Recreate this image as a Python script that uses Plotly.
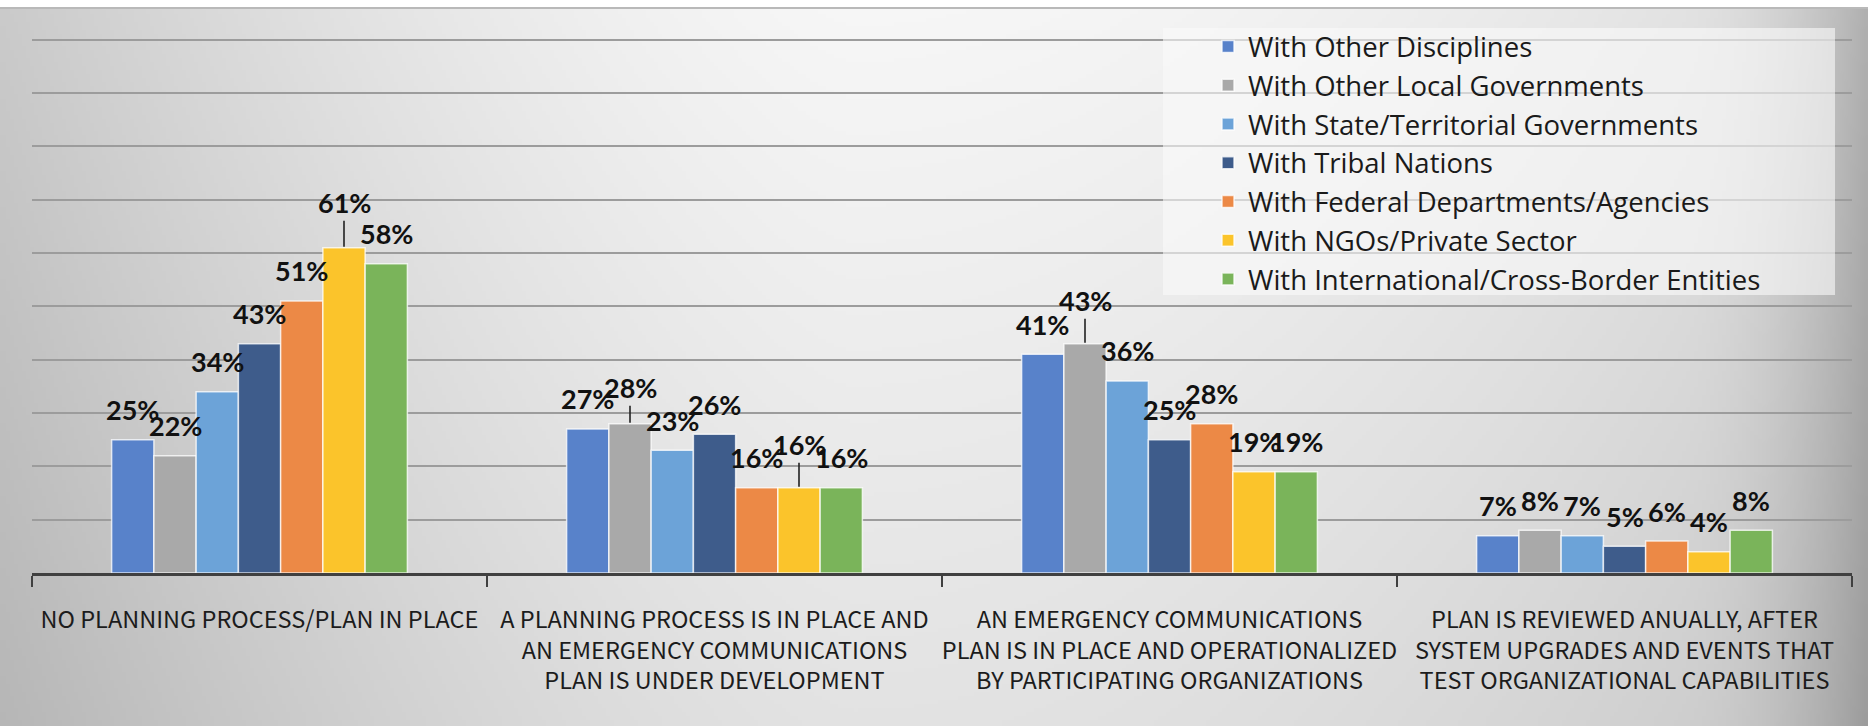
import base64
import struct
import zlib

import plotly.graph_objects as go

# ---- data -----------------------------------------------------------------
categories = [
    "NO PLANNING PROCESS/PLAN IN PLACE",
    "A PLANNING PROCESS IS IN PLACE AND<br>AN EMERGENCY COMMUNICATIONS<br>PLAN IS UNDER DEVELOPMENT",
    "AN EMERGENCY COMMUNICATIONS<br>PLAN IS IN PLACE AND OPERATIONALIZED<br>BY PARTICIPATING ORGANIZATIONS",
    "PLAN IS REVIEWED ANUALLY, AFTER<br>SYSTEM UPGRADES AND EVENTS THAT<br>TEST ORGANIZATIONAL CAPABILITIES",
]

series_names = [
    "With Other Disciplines",
    "With Other Local Governments",
    "With State/Territorial Governments",
    "With Tribal Nations",
    "With Federal Departments/Agencies",
    "With NGOs/Private Sector",
    "With International/Cross-Border Entities",
]

other_disciplines = [25, 27, 41, 7]
other_local_governments = [22, 28, 43, 8]
state_territorial_governments = [34, 23, 36, 7]
tribal_nations = [43, 26, 25, 5]
federal_agencies = [51, 16, 28, 6]
ngos_private_sector = [61, 16, 19, 4]
international_entities = [58, 16, 19, 8]

series_values = [
    other_disciplines,
    other_local_governments,
    state_territorial_governments,
    tribal_nations,
    federal_agencies,
    ngos_private_sector,
    international_entities,
]

colors = ["#5882CA", "#A9A9A9", "#6CA3D8", "#3E5C8B", "#EC8946", "#FBC42B", "#7AB45A"]

# labels lifted higher and tied to their bar with a short leader line
# key: (series index, category index) -> pixel lift of the label centre
leader_labels = {(5, 0): 45, (1, 1): 36, (5, 1): 43, (1, 2): 43}

# ---- figure geometry ------------------------------------------------------
W, H = 1868, 726
M_L, M_R, M_T, M_B = 32, 16, 38, 153
PW, PH = W - M_L - M_R, H - M_T - M_B
BARGAP = 0.35
TOP_STRIP = 8


def png_data_uri(w, h, pixel):
    raw = bytearray()
    for j in range(h):
        raw.append(0)
        for i in range(w):
            raw.extend(pixel(i, j))

    def chunk(tag, data):
        body = tag + data
        return struct.pack(">I", len(data)) + body + struct.pack(">I", zlib.crc32(body) & 0xFFFFFFFF)

    png = (
        b"\x89PNG\r\n\x1a\n"
        + chunk(b"IHDR", struct.pack(">IIBBBBB", w, h, 8, 2, 0, 0, 0))
        + chunk(b"IDAT", zlib.compress(bytes(raw), 9))
        + chunk(b"IEND", b"")
    )
    return "data:image/png;base64," + base64.b64encode(png).decode()


# soft grey backdrop: bright near the upper middle, darker at the sides
SCALE = 4
GW, GH = W // SCALE, (H - TOP_STRIP) // SCALE


def backdrop(i, j):
    x = i * SCALE
    y = j * SCALE
    v = 246.0
    if x < 850:
        v -= 44 * ((850 - x) / 850) ** 1.5
    else:
        v -= 30 * ((x - 850) / 1018) ** 2
    if x > 1680:
        v -= 42 * ((x - 1680) / 188) ** 2
    v -= 20 * (y / (H - TOP_STRIP))
    g = max(0, min(255, int(round(v))))
    return (g, g, g)


bg_uri = png_data_uri(GW, GH, backdrop)

fig = go.Figure()

for k, (name, vals) in enumerate(zip(series_names, series_values)):
    fig.add_trace(
        go.Bar(
            name=name,
            x=categories,
            y=vals,
            marker=dict(color=colors[k], line=dict(color="rgba(255,255,255,0.75)", width=1.5)),
            hoverinfo="skip",
        )
    )

# value labels above each bar (category axis: categories sit at 0, 1, 2, ...)
n = len(series_names)
bw = (1 - BARGAP) / n
annotations = []
for k, vals in enumerate(series_values):
    for c, v in enumerate(vals):
        xpos = c - (1 - BARGAP) / 2 + (k + 0.5) * bw
        common = dict(
            x=xpos,
            y=v,
            xref="x",
            yref="y",
            text=f"{v}%",
            font=dict(family="Lato", size=27, color="#111111", weight="bold"),
        )
        if (k, c) in leader_labels:
            annotations.append(
                dict(
                    **common,
                    showarrow=True,
                    arrowhead=0,
                    arrowwidth=1.6,
                    arrowcolor="#222222",
                    ax=0,
                    ay=-leader_labels[(k, c)],
                    standoff=1,
                )
            )
        else:
            annotations.append(dict(**common, showarrow=False, yshift=30))

paper_x0 = -M_L / PW
paper_top = 1 + (M_T - TOP_STRIP) / PH

fig.update_layout(
    width=W,
    height=H,
    margin=dict(l=M_L, r=M_R, t=M_T, b=M_B, autoexpand=False),
    paper_bgcolor="#ffffff",
    plot_bgcolor="rgba(0,0,0,0)",
    barmode="group",
    bargap=BARGAP,
    bargroupgap=0,
    showlegend=True,
    legend=dict(
        x=(1208 - M_L) / PW,
        y=1 - (22 - M_T) / PH,
        xanchor="left",
        yanchor="top",
        bgcolor="rgba(0,0,0,0)",
        font=dict(family="Open Sans", size=27.5, color="#1a1a1a"),
        traceorder="normal",
    ),
    images=[
        dict(
            source=bg_uri,
            xref="paper",
            yref="paper",
            x=paper_x0,
            y=paper_top,
            sizex=W / PW,
            sizey=(H - TOP_STRIP) / PH,
            xanchor="left",
            yanchor="top",
            sizing="stretch",
            layer="below",
        )
    ],
    shapes=[
        # legend panel
        dict(
            type="rect",
            xref="paper",
            yref="paper",
            x0=(1163 - M_L) / PW,
            x1=(1835 - M_L) / PW,
            y0=1 - (295 - M_T) / PH,
            y1=1 - (28 - M_T) / PH,
            fillcolor="rgba(250,250,250,0.6)",
            line=dict(width=0),
            layer="above",
        ),
        # rim along the top of the grey backdrop
        dict(
            type="line",
            xref="paper",
            yref="paper",
            x0=paper_x0,
            x1=1 + M_R / PW,
            y0=paper_top,
            y1=paper_top,
            line=dict(color="#b9b9b9", width=2),
        ),
    ],
    annotations=annotations,
    xaxis=dict(
        type="category",
        range=[-0.5, len(categories) - 0.5],
        tickson="boundaries",
        ticks="outside",
        ticklen=11,
        tickwidth=2,
        tickcolor="#404040",
        tickangle=0,
        automargin=False,
        showline=True,
        linecolor="#404040",
        linewidth=3,
        showgrid=False,
        tickfont=dict(family="Noto Sans CJK SC", size=23.5, color="#1c1c1c"),
        ticklabelstandoff=24,
        fixedrange=True,
    ),
    yaxis=dict(
        range=[0, 100.3],
        dtick=10,
        showgrid=True,
        gridcolor="#9c9c9c",
        gridwidth=2,
        showticklabels=False,
        zeroline=False,
        showline=False,
        automargin=False,
        fixedrange=True,
    ),
)

fig.write_html("out.html")
